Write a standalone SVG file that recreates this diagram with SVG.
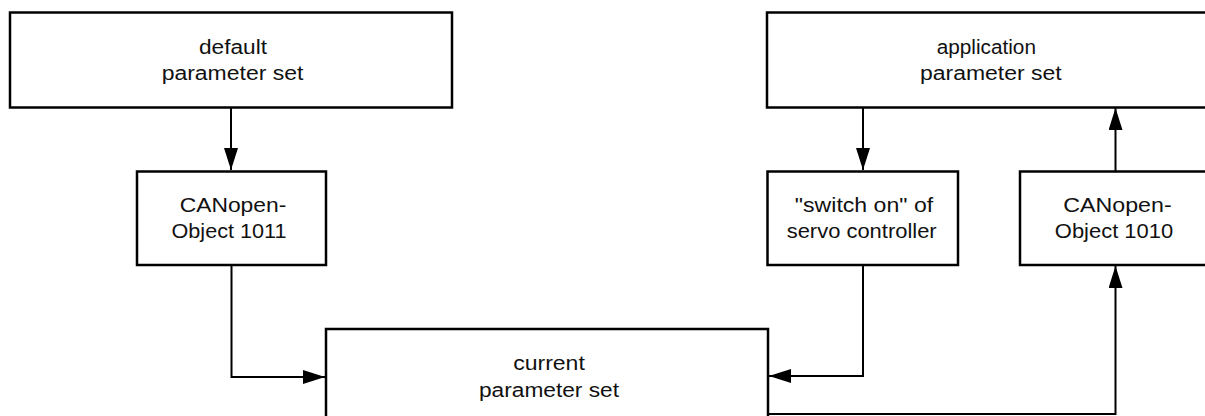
<svg xmlns="http://www.w3.org/2000/svg" width="1205" height="416" viewBox="0 0 1205 416">
<style>
.box{fill:#fff;stroke:#000;stroke-width:2.5}
.ln{fill:none;stroke:#000;stroke-width:2}
text{font-family:"Liberation Sans",Arial,sans-serif;font-size:19.5px;fill:#111;text-anchor:middle}
</style>
<defs>
<marker id="ah" viewBox="0 0 22 14" refX="22" refY="7" markerWidth="22" markerHeight="14" markerUnits="userSpaceOnUse" orient="auto">
<path d="M0,0 L22,7 L0,14 Z" fill="#000"/>
</marker>
</defs>
<rect width="1205" height="416" fill="#fff"/>
<g id="connectors">
<path class="ln" d="M231,108 V170" marker-end="url(#ah)"/>
<path class="ln" d="M231.5,266 V377 H325" marker-end="url(#ah)"/>
<path class="ln" d="M863,108 V170" marker-end="url(#ah)"/>
<path class="ln" d="M863,266 V376 H769" marker-end="url(#ah)"/>
<path class="ln" d="M769,414 H1115.5 V266" marker-end="url(#ah)"/>
<path class="ln" d="M1115.5,171 V108" marker-end="url(#ah)"/>
</g>
<g id="default">
<rect class="box" x="10" y="12.5" width="442" height="95"/>
<text x="233" y="54" textLength="68" lengthAdjust="spacingAndGlyphs">default</text>
<text x="232.5" y="80" textLength="141.7" lengthAdjust="spacingAndGlyphs">parameter set</text>
</g>
<g id="application">
<rect class="box" x="767" y="12.5" width="450" height="95"/>
<text x="986.3" y="54" textLength="99.3" lengthAdjust="spacingAndGlyphs">application</text>
<text x="990.8" y="80" textLength="141.7" lengthAdjust="spacingAndGlyphs">parameter set</text>
</g>
<g id="obj1011">
<rect class="box" x="137" y="171.5" width="189" height="93.5"/>
<text x="233" y="211.5" textLength="106.7" lengthAdjust="spacingAndGlyphs">CANopen-</text>
<text x="229" y="237.5" textLength="115" lengthAdjust="spacingAndGlyphs">Object 1011</text>
</g>
<g id="switchon">
<rect class="box" x="767.5" y="171.5" width="190.5" height="93.5"/>
<text x="864" y="211.5" textLength="138.3" lengthAdjust="spacingAndGlyphs">"switch on" of</text>
<text x="861.7" y="237.5" textLength="150" lengthAdjust="spacingAndGlyphs">servo controller</text>
</g>
<g id="obj1010">
<rect class="box" x="1020" y="171.5" width="200" height="93.5"/>
<text x="1117.5" y="211.5" textLength="108.3" lengthAdjust="spacingAndGlyphs">CANopen-</text>
<text x="1114" y="237.5" textLength="118.3" lengthAdjust="spacingAndGlyphs">Object 1010</text>
</g>
<g id="current">
<rect class="box" x="326" y="329" width="442" height="100"/>
<text x="549" y="369.5" textLength="71.7" lengthAdjust="spacingAndGlyphs">current</text>
<text x="549" y="396.5" textLength="140" lengthAdjust="spacingAndGlyphs">parameter set</text>
</g>
</svg>
